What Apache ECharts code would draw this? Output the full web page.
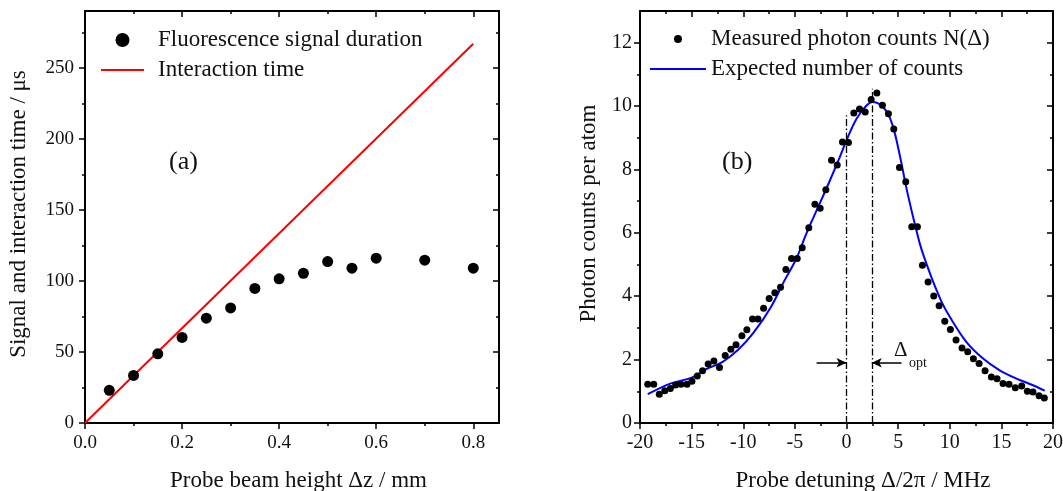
<!DOCTYPE html>
<html><head><meta charset="utf-8">
<script src="https://cdn.jsdelivr.net/npm/echarts@6/dist/echarts.min.js"></script>
<style>html,body{margin:0;padding:0;background:#fff}#c{width:1063px;height:491px}</style>
</head><body><div id="c"></div>
<script>
// ---------- Panel (a) data ----------
const beamHeight = [0.05, 0.10, 0.15, 0.20, 0.25, 0.30, 0.35, 0.40, 0.45, 0.50, 0.55, 0.60, 0.70, 0.80];
const signalDuration = [23, 33.5, 48.7, 60.2, 73.8, 81, 94.7, 101.5, 105.4, 113.6, 109, 116, 114.6, 109];
const interactionX = [0, 0.8];
const interactionY = [0, 267];
const aXTicks = [0, 0.2, 0.4, 0.6, 0.8];
const aXMinor = [0.1, 0.3, 0.5, 0.7];
const aYTicks = [0, 50, 100, 150, 200, 250];
const aYMinor = [25, 75, 125, 175, 225, 275];

// ---------- Panel (b) data ----------
const detuning = [-19.25, -18.67, -18.13, -17.6, -17.06, -16.55, -16.03, -15.45, -14.97, -14.45,
  -13.94, -13.4, -12.84, -12.3, -11.75, -11.2, -10.7, -10.13, -9.65, -9.1,
  -8.58, -8.03, -7.49, -6.94, -6.39, -5.87, -5.32, -4.77, -4.29, -3.65,
  -3.06, -2.55, -2.0, -1.45, -0.9, -0.39, 0.19, 0.71, 1.26, 1.81,
  2.39, 2.94, 3.48, 4.06, 4.58, 5.13, 5.74, 6.32, 6.87, 7.35,
  7.9, 8.45, 8.97, 9.52, 10.06, 10.61, 11.19, 11.74, 12.29, 12.84,
  13.42, 14.03, 14.58, 15.16, 15.74, 16.35, 16.97, 17.52, 18.06, 18.65, 19.16];
const photonCounts = [1.22, 1.22, 0.91, 1.02, 1.09, 1.20, 1.22, 1.22, 1.32, 1.48,
  1.65, 1.86, 1.96, 1.75, 2.13, 2.33, 2.47, 2.75, 2.94, 3.28,
  3.28, 3.62, 3.93, 4.11, 4.28, 4.84, 5.19, 5.19, 5.53, 6.16,
  6.90, 6.78, 7.36, 8.29, 8.14, 8.87, 8.85, 9.78, 9.91, 9.81,
  10.21, 10.41, 10.03, 9.76, 9.28, 8.06, 7.61, 6.19, 6.19, 4.98,
  4.45, 4.01, 3.70, 3.21, 2.95, 2.62, 2.37, 2.25, 2.03, 1.88,
  1.65, 1.45, 1.40, 1.25, 1.22, 1.11, 1.17, 1.00, 0.98, 0.86, 0.79];
const expectedX = [-19.25, -17, -15, -13.7, -12, -10.5, -9, -7.3, -6, -4.85, -3.9, -2.6, -1.6, -0.65, 0,
  0.97, 1.94, 2.52, 3.2, 3.9, 4.5, 5.16, 5.8, 6.45, 7.1, 7.5, 8.4, 9.2, 10, 11.6, 13.2, 14.8, 16.4, 18, 19.2];
const expectedY = [0.91, 1.25, 1.43, 1.68, 1.93, 2.31, 2.85, 3.67, 4.50, 5.19, 5.97, 6.92, 7.66, 8.39, 8.92,
  9.60, 10.02, 10.13, 10.06, 9.82, 9.36, 8.45, 7.42, 6.50, 5.66, 5.25, 4.45, 3.83, 3.35, 2.56, 2.04, 1.67, 1.41, 1.20, 1.02];
const bXTicks = [-20, -15, -10, -5, 0, 5, 10, 15, 20];
const bXMinor = [-17.5, -12.5, -7.5, -2.5, 2.5, 7.5, 12.5, 17.5];
const bYTicks = [0, 2, 4, 6, 8, 10, 12];
const bYMinor = [1, 3, 5, 7, 9, 11];
const zeroLine = [0, 9.71];
const optLine = [2.45, 10.55];
const arrowY = 1.9;
const arrowLeftFrom = -2.9;
const arrowRightFrom = 5.33;

// ---------- chart ----------
const FONT = '"Liberation Serif", "Times New Roman", serif';
const INK = '#111';
const zip = (a, b) => a.map((v, i) => [v, b[i]]);

function makeAxes(gridIndex, isX, min, max, major, minor, fmt, lblSize, lblMargin, name, nameGap, namePad) {
  const mainPos = isX ? 'bottom' : 'left';
  const oppPos = isX ? 'top' : 'right';
  const ls = { color: '#000', width: 1.5 };
  const base = { type: 'value', gridIndex, min, max, splitLine: { show: false }, minorTick: { show: false } };
  return [
    Object.assign({}, base, {
      position: mainPos,
      axisLine: { show: true, onZero: false, lineStyle: { color: '#000', width: 2 } },
      axisTick: { show: true, inside: false, length: 6, customValues: major, lineStyle: ls },
      axisLabel: { show: true, customValues: major, formatter: fmt, fontFamily: FONT, fontSize: lblSize, color: INK, margin: lblMargin },
      name, nameLocation: 'middle', nameGap,
      nameTextStyle: { fontFamily: FONT, fontSize: 23, color: INK, padding: namePad }
    }),
    Object.assign({}, base, {
      position: mainPos,
      axisLine: { show: false, onZero: false },
      axisTick: { show: true, inside: false, length: 3, customValues: minor, lineStyle: ls },
      axisLabel: { show: false }
    }),
    Object.assign({}, base, {
      position: oppPos,
      axisLine: { show: true, onZero: false, lineStyle: { color: '#000', width: 2 } },
      axisTick: { show: true, inside: true, length: 6, customValues: major, lineStyle: ls },
      axisLabel: { show: false }
    }),
    Object.assign({}, base, {
      position: oppPos,
      axisLine: { show: false, onZero: false },
      axisTick: { show: true, inside: true, length: 3, customValues: minor, lineStyle: ls },
      axisLabel: { show: false }
    })
  ];
}

const chart = echarts.init(document.getElementById('c'), null, { renderer: 'canvas' });

const xAxes = [].concat(
  makeAxes(0, true, 0, 0.853, aXTicks, aXMinor, v => v.toFixed(1), 19, 11,
    'Probe beam height \u0394z / mm', 46, [0, 0, 0, 13]),
  makeAxes(1, true, -20, 20, bXTicks, bXMinor, v => String(v), 20, 10,
    'Probe detuning \u0394/2\u03C0 / MHz', 46, [0, 0, 0, 33])
);
const yAxes = [].concat(
  makeAxes(0, false, 0, 290, aYTicks, aYMinor, v => String(v), 19, 11,
    'Signal and interaction time / \u03BCs', 55, [0, 0, 0, 6]),
  makeAxes(1, false, 0, 13, bYTicks, bYMinor, v => String(v), 20, 8,
    'Photon counts per atom', 40, [0, 0, 0, 7])
);

const hiddenSymbol = { color: 'rgba(0,0,0,0)', borderColor: 'rgba(0,0,0,0)', borderWidth: 0, opacity: 0 };

const option = {
  backgroundColor: '#fff',
  animation: false,
  textStyle: { fontFamily: FONT },
  grid: [
    { left: 85, top: 11, width: 414, height: 412, containLabel: false, outerBoundsMode: 'none' },
    { left: 640, top: 11, width: 413, height: 412, containLabel: false, outerBoundsMode: 'none' }
  ],
  xAxis: xAxes,
  yAxis: yAxes,
  legend: [
    {
      data: ['Fluorescence signal duration', { name: 'Interaction time', itemStyle: hiddenSymbol }],
      orient: 'vertical', left: 95, top: 22, itemGap: 4,
      itemWidth: 43, itemHeight: 14, selectedMode: false,
      textStyle: { fontFamily: FONT, fontSize: 23, color: INK, lineHeight: 26, padding: [0, 0, 0, 9] }
    },
    {
      data: ['Measured photon counts N(\u0394)', { name: 'Expected number of counts', itemStyle: hiddenSymbol }],
      orient: 'vertical', left: 644, top: 21, itemGap: 4,
      itemWidth: 56, itemHeight: 8, selectedMode: false,
      textStyle: { fontFamily: FONT, fontSize: 23, color: INK, lineHeight: 26 }
    }
  ],
  series: [
    {
      name: 'Fluorescence signal duration', type: 'scatter', xAxisIndex: 0, yAxisIndex: 0,
      data: zip(beamHeight, signalDuration), symbol: 'circle', symbolSize: 11,
      itemStyle: { color: '#000', opacity: 1 }, z: 3
    },
    {
      name: 'Interaction time', type: 'line', xAxisIndex: 0, yAxisIndex: 0,
      data: zip(interactionX, interactionY), symbol: 'none', showSymbol: false,
      lineStyle: { color: '#ff0000', width: 2 }, itemStyle: { color: '#ff0000' }, z: 2
    },
    {
      name: 'Measured photon counts N(\u0394)', type: 'scatter', xAxisIndex: 4, yAxisIndex: 4,
      data: zip(detuning, photonCounts), symbol: 'circle', symbolSize: 7,
      itemStyle: { color: '#000', opacity: 1 }, z: 3
    },
    {
      name: 'Expected number of counts', type: 'line', xAxisIndex: 4, yAxisIndex: 4,
      data: zip(expectedX, expectedY), smooth: 0.35, symbol: 'none', showSymbol: false,
      lineStyle: { color: '#0000ff', width: 2 }, itemStyle: { color: '#0000ff' }, z: 2,
      markLine: {
        silent: true, symbol: ['none', 'none'], symbolSize: [9, 9],
        label: { show: false },
        lineStyle: { color: '#000', width: 1.3, type: [7, 2.5, 1.5, 2.5] },
        data: [
          [{ coord: [zeroLine[0], 0] }, { coord: [zeroLine[0], zeroLine[1]] }],
          [{ coord: [optLine[0], 0] }, { coord: [optLine[0], optLine[1]] }],
          [{ coord: [arrowLeftFrom, arrowY], symbol: 'none', lineStyle: { type: 'solid', width: 1.5 } },
           { coord: [zeroLine[0], arrowY], symbol: 'arrow', symbolSize: [7, 10] }],
          [{ coord: [arrowRightFrom, arrowY], symbol: 'none', lineStyle: { type: 'solid', width: 1.5 } },
           { coord: [optLine[0], arrowY], symbol: 'arrow', symbolSize: [7, 10] }]
        ]
      }
    }
  ],
  graphic: [
    { type: 'text', x: 169, y: 162, silent: true,
      style: { text: '(a)', fontFamily: FONT, fontSize: 26, fill: INK, verticalAlign: 'middle' } },
    { type: 'text', x: 722, y: 162, silent: true,
      style: { text: '(b)', fontFamily: FONT, fontSize: 26, fill: INK, verticalAlign: 'middle' } },
    { type: 'text', x: 894, y: 350, silent: true,
      style: { text: '\u0394', fontFamily: FONT, fontSize: 21, fill: INK, verticalAlign: 'middle' } },
    { type: 'text', x: 909, y: 363, silent: true,
      style: { text: 'opt', fontFamily: FONT, fontSize: 14, fill: INK, verticalAlign: 'middle' } }
  ]
};
chart.setOption(option);
</script></body></html>
